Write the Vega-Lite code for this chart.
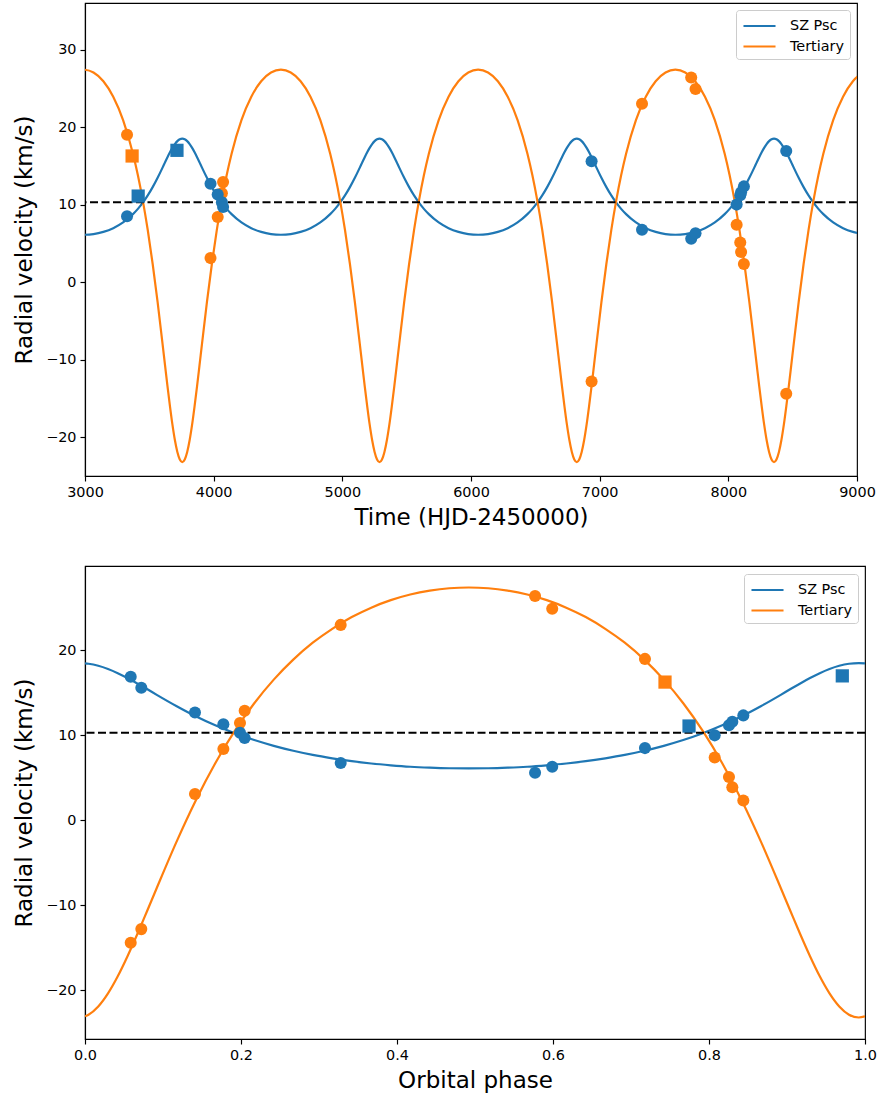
{
  "$schema": "https://vega.github.io/schema/vega-lite/v6.json",
  "background": "white",
  "padding": {"left": 13, "top": 2, "right": 2, "bottom": 2},
  "spacing": 35,
  "config": {
    "font": "DejaVu Sans",
    "view": {"stroke": "black", "strokeWidth": 1.15},
    "axis": {"grid": false, "domainColor": "black", "domainWidth": 1.15, "tickColor": "black", "tickWidth": 1.15, "tickSize": 5, "labelPadding": 4, "labelFont": "DejaVu Sans", "labelFontSize": 14.4, "labelColor": "black", "titleFont": "DejaVu Sans", "titleFontSize": 23, "titleFontWeight": "normal", "titleColor": "black", "labelOverlap": false, "labelFlush": false},
    "axisX": {"titlePadding": 8},
    "axisY": {"titlePadding": 9},
    "legend": {"orient": "top-right", "offset": 7, "padding": 5.5, "strokeColor": "#cccccc", "fillColor": "white", "cornerRadius": 3, "labelFont": "DejaVu Sans", "labelFontSize": 14.4, "labelColor": "black", "symbolType": "M-1.78,0L1.78,0", "symbolSize": 324, "symbolStrokeWidth": 2.2, "rowPadding": 3.5, "labelOffset": 20, "symbolOffset": 7.5}
  },
  "resolve": {"scale": {"color": "independent"}, "legend": {"color": "independent"}},
  "datasets": {
    "obs": [
      {"t": 3326.7, "p": 0.7179, "v": 8.5, "series": "SZ Psc", "set": "a"},
      {"t": 3326.7, "p": 0.7179, "v": 19.0, "series": "Tertiary", "set": "a"},
      {"t": 3366.1, "p": 0.7436, "v": 16.27, "series": "Tertiary", "set": "b"},
      {"t": 3413.3, "p": 0.7744, "v": 11.1, "series": "SZ Psc", "set": "b"},
      {"t": 3714.7, "p": 0.9709, "v": 17.0, "series": "SZ Psc", "set": "b"},
      {"t": 3975.5, "p": 0.141, "v": 12.7, "series": "SZ Psc", "set": "a"},
      {"t": 3975.5, "p": 0.141, "v": 3.1, "series": "Tertiary", "set": "a"},
      {"t": 4031.4, "p": 0.1774, "v": 11.3, "series": "SZ Psc", "set": "a"},
      {"t": 4031.4, "p": 0.1774, "v": 8.4, "series": "Tertiary", "set": "a"},
      {"t": 4064.0, "p": 0.1987, "v": 10.3, "series": "SZ Psc", "set": "a"},
      {"t": 4064.0, "p": 0.1987, "v": 11.45, "series": "Tertiary", "set": "a"},
      {"t": 4073.2, "p": 0.2047, "v": 9.7, "series": "SZ Psc", "set": "a"},
      {"t": 4073.2, "p": 0.2047, "v": 12.9, "series": "Tertiary", "set": "a"},
      {"t": 6937.2, "p": 0.0722, "v": 15.6, "series": "SZ Psc", "set": "a"},
      {"t": 6937.2, "p": 0.0722, "v": -12.8, "series": "Tertiary", "set": "a"},
      {"t": 7329.2, "p": 0.3278, "v": 6.76, "series": "SZ Psc", "set": "a"},
      {"t": 7329.2, "p": 0.3278, "v": 23.0, "series": "Tertiary", "set": "a"},
      {"t": 7711.4, "p": 0.577, "v": 5.6, "series": "SZ Psc", "set": "a"},
      {"t": 7711.4, "p": 0.577, "v": 26.4, "series": "Tertiary", "set": "a"},
      {"t": 7745.1, "p": 0.599, "v": 6.3, "series": "SZ Psc", "set": "a"},
      {"t": 7745.1, "p": 0.599, "v": 24.9, "series": "Tertiary", "set": "a"},
      {"t": 8064.6, "p": 0.8073, "v": 10.0, "series": "SZ Psc", "set": "a"},
      {"t": 8064.6, "p": 0.8073, "v": 7.4, "series": "Tertiary", "set": "a"},
      {"t": 8092.7, "p": 0.8256, "v": 11.2, "series": "SZ Psc", "set": "a"},
      {"t": 8092.7, "p": 0.8256, "v": 5.1, "series": "Tertiary", "set": "a"},
      {"t": 8099.2, "p": 0.8299, "v": 11.6, "series": "SZ Psc", "set": "a"},
      {"t": 8099.2, "p": 0.8299, "v": 3.9, "series": "Tertiary", "set": "a"},
      {"t": 8120.9, "p": 0.844, "v": 12.35, "series": "SZ Psc", "set": "a"},
      {"t": 8120.9, "p": 0.844, "v": 2.33, "series": "Tertiary", "set": "a"},
      {"t": 8450.0, "p": 0.0586, "v": 16.9, "series": "SZ Psc", "set": "a"},
      {"t": 8450.0, "p": 0.0586, "v": -14.4, "series": "Tertiary", "set": "a"}
    ],
    "curveT": [
      {"t": 2912.9, "ter": 27.03, "sz": 6.2}, {"t": 2989.5, "ter": 27.4, "sz": 6.11}, {"t": 3066.1, "ter": 27.03, "sz": 6.2}, {"t": 3142.8, "ter": 25.91, "sz": 6.48},
      {"t": 3219.4, "ter": 23.92, "sz": 6.96}, {"t": 3296.1, "ter": 20.9, "sz": 7.7}, {"t": 3372.7, "ter": 16.56, "sz": 8.77}, {"t": 3411.1, "ter": 13.78, "sz": 9.45},
      {"t": 3449.4, "ter": 10.52, "sz": 10.25}, {"t": 3487.7, "ter": 6.72, "sz": 11.18}, {"t": 3526.0, "ter": 2.34, "sz": 12.25}, {"t": 3564.4, "ter": -2.59, "sz": 13.46},
      {"t": 3602.7, "ter": -7.96, "sz": 14.77}, {"t": 3621.9, "ter": -10.7, "sz": 15.45}, {"t": 3641.0, "ter": -13.41, "sz": 16.11}, {"t": 3660.2, "ter": -15.99, "sz": 16.74},
      {"t": 3679.3, "ter": -18.35, "sz": 17.32}, {"t": 3698.5, "ter": -20.36, "sz": 17.81}, {"t": 3717.7, "ter": -21.9, "sz": 18.19}, {"t": 3736.8, "ter": -22.87, "sz": 18.43},
      {"t": 3756.0, "ter": -23.2, "sz": 18.51},
      {"t": 3775.2, "ter": -22.87, "sz": 18.43}, {"t": 3794.3, "ter": -21.9, "sz": 18.19}, {"t": 3813.5, "ter": -20.36, "sz": 17.81}, {"t": 3832.7, "ter": -18.35, "sz": 17.32},
      {"t": 3851.8, "ter": -15.99, "sz": 16.74}, {"t": 3871.0, "ter": -13.41, "sz": 16.11}, {"t": 3890.1, "ter": -10.7, "sz": 15.45}, {"t": 3909.3, "ter": -7.96, "sz": 14.77},
      {"t": 3947.6, "ter": -2.59, "sz": 13.46}, {"t": 3986.0, "ter": 2.34, "sz": 12.25}, {"t": 4024.3, "ter": 6.72, "sz": 11.18}, {"t": 4062.6, "ter": 10.52, "sz": 10.25},
      {"t": 4100.9, "ter": 13.78, "sz": 9.45}, {"t": 4139.3, "ter": 16.56, "sz": 8.77}, {"t": 4215.9, "ter": 20.9, "sz": 7.7}, {"t": 4292.6, "ter": 23.92, "sz": 6.96},
      {"t": 4369.2, "ter": 25.91, "sz": 6.48}, {"t": 4445.9, "ter": 27.03, "sz": 6.2}, {"t": 4522.5, "ter": 27.4, "sz": 6.11},
      {"t": 4599.1, "ter": 27.03, "sz": 6.2}, {"t": 4675.8, "ter": 25.91, "sz": 6.48}, {"t": 4752.4, "ter": 23.92, "sz": 6.96}, {"t": 4829.1, "ter": 20.9, "sz": 7.7},
      {"t": 4905.7, "ter": 16.56, "sz": 8.77}, {"t": 4944.1, "ter": 13.78, "sz": 9.45}, {"t": 4982.4, "ter": 10.52, "sz": 10.25}, {"t": 5020.7, "ter": 6.72, "sz": 11.18},
      {"t": 5059.0, "ter": 2.34, "sz": 12.25}, {"t": 5097.4, "ter": -2.59, "sz": 13.46}, {"t": 5135.7, "ter": -7.96, "sz": 14.77}, {"t": 5154.9, "ter": -10.7, "sz": 15.45},
      {"t": 5174.0, "ter": -13.41, "sz": 16.11}, {"t": 5193.2, "ter": -15.99, "sz": 16.74}, {"t": 5212.3, "ter": -18.35, "sz": 17.32}, {"t": 5231.5, "ter": -20.36, "sz": 17.81},
      {"t": 5250.7, "ter": -21.9, "sz": 18.19}, {"t": 5269.8, "ter": -22.87, "sz": 18.43}, {"t": 5289.0, "ter": -23.2, "sz": 18.51},
      {"t": 5308.2, "ter": -22.87, "sz": 18.43}, {"t": 5327.3, "ter": -21.9, "sz": 18.19}, {"t": 5346.5, "ter": -20.36, "sz": 17.81}, {"t": 5365.7, "ter": -18.35, "sz": 17.32},
      {"t": 5384.8, "ter": -15.99, "sz": 16.74}, {"t": 5404.0, "ter": -13.41, "sz": 16.11}, {"t": 5423.1, "ter": -10.7, "sz": 15.45}, {"t": 5442.3, "ter": -7.96, "sz": 14.77},
      {"t": 5480.6, "ter": -2.59, "sz": 13.46}, {"t": 5519.0, "ter": 2.34, "sz": 12.25}, {"t": 5557.3, "ter": 6.72, "sz": 11.18}, {"t": 5595.6, "ter": 10.52, "sz": 10.25},
      {"t": 5633.9, "ter": 13.78, "sz": 9.45}, {"t": 5672.3, "ter": 16.56, "sz": 8.77}, {"t": 5748.9, "ter": 20.9, "sz": 7.7}, {"t": 5825.6, "ter": 23.92, "sz": 6.96},
      {"t": 5902.2, "ter": 25.91, "sz": 6.48}, {"t": 5978.9, "ter": 27.03, "sz": 6.2}, {"t": 6055.5, "ter": 27.4, "sz": 6.11},
      {"t": 6132.1, "ter": 27.03, "sz": 6.2}, {"t": 6208.8, "ter": 25.91, "sz": 6.48}, {"t": 6285.4, "ter": 23.92, "sz": 6.96}, {"t": 6362.1, "ter": 20.9, "sz": 7.7},
      {"t": 6438.7, "ter": 16.56, "sz": 8.77}, {"t": 6477.1, "ter": 13.78, "sz": 9.45}, {"t": 6515.4, "ter": 10.52, "sz": 10.25}, {"t": 6553.7, "ter": 6.72, "sz": 11.18},
      {"t": 6592.0, "ter": 2.34, "sz": 12.25}, {"t": 6630.4, "ter": -2.59, "sz": 13.46}, {"t": 6668.7, "ter": -7.96, "sz": 14.77}, {"t": 6687.9, "ter": -10.7, "sz": 15.45},
      {"t": 6707.0, "ter": -13.41, "sz": 16.11}, {"t": 6726.2, "ter": -15.99, "sz": 16.74}, {"t": 6745.3, "ter": -18.35, "sz": 17.32}, {"t": 6764.5, "ter": -20.36, "sz": 17.81},
      {"t": 6783.7, "ter": -21.9, "sz": 18.19}, {"t": 6802.8, "ter": -22.87, "sz": 18.43}, {"t": 6822.0, "ter": -23.2, "sz": 18.51},
      {"t": 6841.2, "ter": -22.87, "sz": 18.43}, {"t": 6860.3, "ter": -21.9, "sz": 18.19}, {"t": 6879.5, "ter": -20.36, "sz": 17.81}, {"t": 6898.7, "ter": -18.35, "sz": 17.32},
      {"t": 6917.8, "ter": -15.99, "sz": 16.74}, {"t": 6937.0, "ter": -13.41, "sz": 16.11}, {"t": 6956.1, "ter": -10.7, "sz": 15.45}, {"t": 6975.3, "ter": -7.96, "sz": 14.77},
      {"t": 7013.6, "ter": -2.59, "sz": 13.46}, {"t": 7052.0, "ter": 2.34, "sz": 12.25}, {"t": 7090.3, "ter": 6.72, "sz": 11.18}, {"t": 7128.6, "ter": 10.52, "sz": 10.25},
      {"t": 7166.9, "ter": 13.78, "sz": 9.45}, {"t": 7205.3, "ter": 16.56, "sz": 8.77}, {"t": 7281.9, "ter": 20.9, "sz": 7.7}, {"t": 7358.6, "ter": 23.92, "sz": 6.96},
      {"t": 7435.2, "ter": 25.91, "sz": 6.48}, {"t": 7511.9, "ter": 27.03, "sz": 6.2}, {"t": 7588.5, "ter": 27.4, "sz": 6.11},
      {"t": 7665.1, "ter": 27.03, "sz": 6.2}, {"t": 7741.8, "ter": 25.91, "sz": 6.48}, {"t": 7818.4, "ter": 23.92, "sz": 6.96}, {"t": 7895.1, "ter": 20.9, "sz": 7.7},
      {"t": 7971.7, "ter": 16.56, "sz": 8.77}, {"t": 8010.1, "ter": 13.78, "sz": 9.45}, {"t": 8048.4, "ter": 10.52, "sz": 10.25}, {"t": 8086.7, "ter": 6.72, "sz": 11.18},
      {"t": 8125.0, "ter": 2.34, "sz": 12.25}, {"t": 8163.4, "ter": -2.59, "sz": 13.46}, {"t": 8201.7, "ter": -7.96, "sz": 14.77}, {"t": 8220.9, "ter": -10.7, "sz": 15.45},
      {"t": 8240.0, "ter": -13.41, "sz": 16.11}, {"t": 8259.2, "ter": -15.99, "sz": 16.74}, {"t": 8278.3, "ter": -18.35, "sz": 17.32}, {"t": 8297.5, "ter": -20.36, "sz": 17.81},
      {"t": 8316.7, "ter": -21.9, "sz": 18.19}, {"t": 8335.8, "ter": -22.87, "sz": 18.43}, {"t": 8355.0, "ter": -23.2, "sz": 18.51},
      {"t": 8374.2, "ter": -22.87, "sz": 18.43}, {"t": 8393.3, "ter": -21.9, "sz": 18.19}, {"t": 8412.5, "ter": -20.36, "sz": 17.81}, {"t": 8431.7, "ter": -18.35, "sz": 17.32},
      {"t": 8450.8, "ter": -15.99, "sz": 16.74}, {"t": 8470.0, "ter": -13.41, "sz": 16.11}, {"t": 8489.1, "ter": -10.7, "sz": 15.45}, {"t": 8508.3, "ter": -7.96, "sz": 14.77},
      {"t": 8546.6, "ter": -2.59, "sz": 13.46}, {"t": 8585.0, "ter": 2.34, "sz": 12.25}, {"t": 8623.3, "ter": 6.72, "sz": 11.18}, {"t": 8661.6, "ter": 10.52, "sz": 10.25},
      {"t": 8699.9, "ter": 13.78, "sz": 9.45}, {"t": 8738.3, "ter": 16.56, "sz": 8.77}, {"t": 8814.9, "ter": 20.9, "sz": 7.7}, {"t": 8891.6, "ter": 23.92, "sz": 6.96},
      {"t": 8968.2, "ter": 25.91, "sz": 6.48}, {"t": 9044.9, "ter": 27.03, "sz": 6.2}
    ],
    "curveP": [
      {"p": 0.0, "ter": -23.06, "sz": 18.48}, {"p": 0.0045, "ter": -22.87, "sz": 18.43}, {"p": 0.017, "ter": -21.9, "sz": 18.19}, {"p": 0.0295, "ter": -20.36, "sz": 17.81},
      {"p": 0.042, "ter": -18.35, "sz": 17.32}, {"p": 0.0545, "ter": -15.99, "sz": 16.74}, {"p": 0.067, "ter": -13.41, "sz": 16.11}, {"p": 0.0795, "ter": -10.7, "sz": 15.45},
      {"p": 0.092, "ter": -7.96, "sz": 14.77}, {"p": 0.117, "ter": -2.59, "sz": 13.46}, {"p": 0.142, "ter": 2.34, "sz": 12.25}, {"p": 0.167, "ter": 6.72, "sz": 11.18},
      {"p": 0.192, "ter": 10.52, "sz": 10.25}, {"p": 0.217, "ter": 13.78, "sz": 9.45}, {"p": 0.242, "ter": 16.56, "sz": 8.77}, {"p": 0.267, "ter": 18.91, "sz": 8.19},
      {"p": 0.292, "ter": 20.9, "sz": 7.7}, {"p": 0.317, "ter": 22.54, "sz": 7.3}, {"p": 0.342, "ter": 23.92, "sz": 6.96}, {"p": 0.367, "ter": 25.03, "sz": 6.69},
      {"p": 0.392, "ter": 25.91, "sz": 6.48}, {"p": 0.417, "ter": 26.57, "sz": 6.31}, {"p": 0.442, "ter": 27.03, "sz": 6.2}, {"p": 0.467, "ter": 27.31, "sz": 6.13},
      {"p": 0.492, "ter": 27.4, "sz": 6.11}, {"p": 0.517, "ter": 27.31, "sz": 6.13}, {"p": 0.542, "ter": 27.03, "sz": 6.2}, {"p": 0.567, "ter": 26.57, "sz": 6.31},
      {"p": 0.592, "ter": 25.91, "sz": 6.48}, {"p": 0.617, "ter": 25.03, "sz": 6.69}, {"p": 0.642, "ter": 23.92, "sz": 6.96}, {"p": 0.667, "ter": 22.54, "sz": 7.3},
      {"p": 0.692, "ter": 20.9, "sz": 7.7}, {"p": 0.717, "ter": 18.91, "sz": 8.19}, {"p": 0.742, "ter": 16.56, "sz": 8.77}, {"p": 0.767, "ter": 13.78, "sz": 9.45},
      {"p": 0.792, "ter": 10.52, "sz": 10.25}, {"p": 0.817, "ter": 6.72, "sz": 11.18}, {"p": 0.842, "ter": 2.34, "sz": 12.25}, {"p": 0.867, "ter": -2.59, "sz": 13.46},
      {"p": 0.892, "ter": -7.96, "sz": 14.77}, {"p": 0.9045, "ter": -10.7, "sz": 15.45}, {"p": 0.917, "ter": -13.41, "sz": 16.11}, {"p": 0.9295, "ter": -15.99, "sz": 16.74},
      {"p": 0.942, "ter": -18.35, "sz": 17.32}, {"p": 0.9545, "ter": -20.36, "sz": 17.81}, {"p": 0.967, "ter": -21.9, "sz": 18.19}, {"p": 0.9795, "ter": -22.87, "sz": 18.43},
      {"p": 0.992, "ter": -23.2, "sz": 18.51}, {"p": 1.0, "ter": -23.06, "sz": 18.48}
    ],
    "gamma": [{"g": 10.3}]
  },
  "vconcat": [
    {
      "width": 772,
      "height": 473,
      "encoding": {
        "x": {"type": "quantitative", "scale": {"domain": [3000, 9000], "nice": false, "zero": false}, "axis": {"title": "Time (HJD-2450000)", "values": [3000, 4000, 5000, 6000, 7000, 8000, 9000], "format": "d"}}
      },
      "layer": [
        {"data": {"name": "curveT"}, "mark": {"type": "line", "strokeWidth": 2.2, "interpolate": "monotone", "clip": true},
         "encoding": {"x": {"field": "t", "type": "quantitative"},
                      "y": {"field": "sz", "type": "quantitative", "scale": {"domain": [-25, 36], "nice": false, "zero": false}, "axis": {"title": "Radial velocity (km/s)", "values": [-20, -10, 0, 10, 20, 30]}},
                      "color": {"datum": "SZ Psc", "scale": {"domain": ["SZ Psc", "Tertiary"], "range": ["#1f77b4", "#ff7f0e"]}, "legend": {"title": null, "labelFontSize": 14.4, "labelOffset": 20}}}},
        {"data": {"name": "curveT"}, "mark": {"type": "line", "strokeWidth": 2.2, "interpolate": "monotone", "clip": true},
         "encoding": {"x": {"field": "t", "type": "quantitative"},
                      "y": {"field": "ter", "type": "quantitative", "axis": {"title": "Radial velocity (km/s)"}},
                      "color": {"datum": "Tertiary"}}},
        {"data": {"name": "gamma"}, "mark": {"type": "rule", "color": "black", "strokeWidth": 2, "strokeDash": [8, 3.5]},
         "encoding": {"y": {"field": "g", "type": "quantitative"}}},
        {"data": {"name": "obs"}, "transform": [{"filter": "datum.series == 'Tertiary'"}], "mark": {"type": "point", "filled": true, "opacity": 1, "color": "#ff7f0e"},
         "encoding": {"x": {"field": "t", "type": "quantitative"}, "y": {"field": "v", "type": "quantitative"},
                      "shape": {"field": "set", "type": "nominal", "scale": {"domain": ["a", "b"], "range": ["circle", "square"]}, "legend": null},
                      "size": {"field": "set", "type": "nominal", "scale": {"domain": ["a", "b"], "range": [145, 175]}, "legend": null}}},
        {"data": {"name": "obs"}, "transform": [{"filter": "datum.series == 'SZ Psc'"}], "mark": {"type": "point", "filled": true, "opacity": 1, "color": "#1f77b4"},
         "encoding": {"x": {"field": "t", "type": "quantitative"}, "y": {"field": "v", "type": "quantitative"},
                      "shape": {"field": "set", "type": "nominal", "scale": {"domain": ["a", "b"], "range": ["circle", "square"]}, "legend": null},
                      "size": {"field": "set", "type": "nominal", "scale": {"domain": ["a", "b"], "range": [145, 175]}, "legend": null}}}
      ]
    },
    {
      "width": 780,
      "height": 473,
      "encoding": {
        "x": {"type": "quantitative", "scale": {"domain": [0, 1], "nice": false, "zero": false}, "axis": {"title": "Orbital phase", "values": [0, 0.2, 0.4, 0.6, 0.8, 1.0], "format": ".1f"}}
      },
      "layer": [
        {"data": {"name": "curveP"}, "mark": {"type": "line", "strokeWidth": 2.2, "interpolate": "monotone", "clip": true},
         "encoding": {"x": {"field": "p", "type": "quantitative"},
                      "y": {"field": "sz", "type": "quantitative", "scale": {"domain": [-25.73, 29.93], "nice": false, "zero": false}, "axis": {"title": "Radial velocity (km/s)", "values": [-20, -10, 0, 10, 20]}},
                      "color": {"datum": "SZ Psc", "scale": {"domain": ["SZ Psc", "Tertiary"], "range": ["#1f77b4", "#ff7f0e"]}, "legend": {"title": null, "labelFontSize": 14.4, "labelOffset": 20, "offset": 7.5}}}},
        {"data": {"name": "curveP"}, "mark": {"type": "line", "strokeWidth": 2.2, "interpolate": "monotone", "clip": true},
         "encoding": {"x": {"field": "p", "type": "quantitative"},
                      "y": {"field": "ter", "type": "quantitative", "axis": {"title": "Radial velocity (km/s)"}},
                      "color": {"datum": "Tertiary"}}},
        {"data": {"name": "gamma"}, "mark": {"type": "rule", "color": "black", "strokeWidth": 2, "strokeDash": [8, 3.5]},
         "encoding": {"y": {"field": "g", "type": "quantitative"}}},
        {"data": {"name": "obs"}, "transform": [{"filter": "datum.series == 'Tertiary'"}], "mark": {"type": "point", "filled": true, "opacity": 1, "color": "#ff7f0e"},
         "encoding": {"x": {"field": "p", "type": "quantitative"}, "y": {"field": "v", "type": "quantitative"},
                      "shape": {"field": "set", "type": "nominal", "scale": {"domain": ["a", "b"], "range": ["circle", "square"]}, "legend": null},
                      "size": {"field": "set", "type": "nominal", "scale": {"domain": ["a", "b"], "range": [145, 175]}, "legend": null}}},
        {"data": {"name": "obs"}, "transform": [{"filter": "datum.series == 'SZ Psc'"}], "mark": {"type": "point", "filled": true, "opacity": 1, "color": "#1f77b4"},
         "encoding": {"x": {"field": "p", "type": "quantitative"}, "y": {"field": "v", "type": "quantitative"},
                      "shape": {"field": "set", "type": "nominal", "scale": {"domain": ["a", "b"], "range": ["circle", "square"]}, "legend": null},
                      "size": {"field": "set", "type": "nominal", "scale": {"domain": ["a", "b"], "range": [145, 175]}, "legend": null}}}
      ]
    }
  ]
}
